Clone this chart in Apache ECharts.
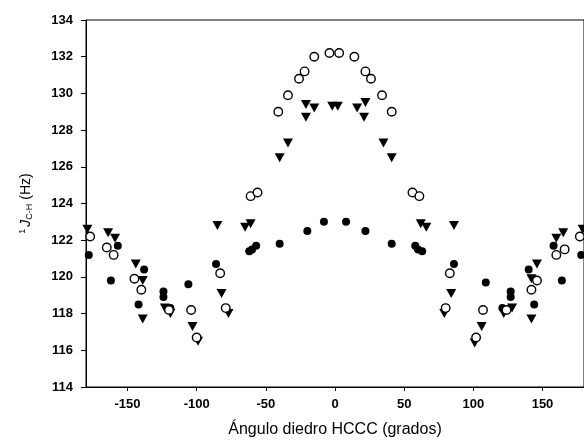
<!DOCTYPE html>
<html>
<head>
<meta charset="utf-8">
<script src="https://cdn.jsdelivr.net/npm/echarts@6/dist/echarts.min.js"></script>
<style>html,body{margin:0;padding:0;background:#fff}#c{width:584px;height:443px}</style>
</head>
<body>
<div id="c"></div>
<script>
// Filled circles
var filledX = [-178,-162,-157,-142,-138,-124,-124,-119,-106,-86,-62,-60,-57,-40,-20,-8,8,22,41,58,60,63,86,109,121,127,127,140,144,158,164,178];
var filledY = [121.2,119.8,121.7,118.5,120.4,119.2,118.9,118.3,119.6,120.7,121.4,121.5,121.7,121.8,122.5,123.0,123.0,122.5,121.8,121.7,121.5,121.4,120.7,119.7,118.3,118.9,119.2,120.4,118.5,121.7,119.8,121.2];
// Open circles
var openX = [-177,-165,-160,-145,-140,-120,-104,-100,-83,-79,-61,-56,-41,-34,-26,-22,-15,-4,3,14,22,26,34,41,56,61,80,83,102,107,124,142,146,160,166,177];
var openY = [122.2,121.6,121.2,119.9,119.3,118.2,118.2,116.7,120.2,118.3,124.4,124.6,129.0,129.9,130.8,131.2,132.0,132.2,132.2,132.0,131.2,130.8,129.9,129.0,124.6,124.4,118.3,120.2,116.7,118.2,118.2,119.3,119.8,121.2,121.5,122.2];
// Down triangles
var triX = [-179,-164,-159,-144,-139,-139,-123,-119,-103,-99,-85,-82,-77,-65,-61,-40,-34,-21,-21,-15,-2,2,16,21,22,35,41,62,66,79,84,86,101,106,122,128,142,142,146,160,165,179];
var triY = [122.6,122.4,122.1,120.7,119.8,117.7,118.3,118.0,117.3,116.5,122.8,119.1,118.0,122.7,122.9,126.5,127.3,129.4,128.7,129.2,129.3,129.3,129.2,128.7,129.5,127.3,126.5,122.9,122.7,118.0,119.1,122.8,116.4,117.3,118.0,118.3,117.7,119.9,120.7,122.1,122.4,122.6];
var xTicks = [-150,-100,-50,0,50,100,150];
var yTicks = [114,116,118,120,122,124,126,128,130,132,134];

function pairs(xs, ys){ return xs.map(function(x,i){ return [x, ys[i]]; }); }

var chart = echarts.init(document.getElementById('c'));
var font = '"Liberation Sans", Arial, sans-serif';
chart.setOption({
  animation: false,
  backgroundColor: '#fff',
  grid: {left: 86, top: 20, width: 504, height: 367, show: true, borderColor: '#000', borderWidth: 1, backgroundColor: 'transparent'},
  xAxis: {
    type: 'value', min: -180, max: 180,
    name: 'Ángulo diedro HCCC (grados)', nameLocation: 'middle', nameGap: 35,
    nameTextStyle: {fontFamily: font, fontSize: 16, color: '#000'},
    axisLine: {show: true, onZero: false, lineStyle: {color: '#000', width: 1}},
    axisTick: {show: true, inside: false, length: 4, customValues: xTicks, lineStyle: {color: '#000'}},
    axisLabel: {customValues: xTicks, fontFamily: font, fontSize: 13, fontWeight: 'bold', color: '#000', margin: 11},
    splitLine: {show: false}
  },
  yAxis: {
    type: 'value', min: 114, max: 134, interval: 2,
    name: '{sup|1}{j|J}{sub|C-H} {n|(Hz)}', nameLocation: 'middle', nameRotate: 90, nameGap: 51,
    nameTextStyle: {
      fontFamily: font, fontSize: 14, color: '#000',
      rich: {
        sup: {fontFamily: font, fontSize: 9, color: '#000', padding: [0,2,8,0]},
        j: {fontFamily: font, fontSize: 14, fontStyle: 'italic', color: '#000'},
        sub: {fontFamily: font, fontSize: 9, color: '#000', padding: [7,0,0,0]},
        n: {fontFamily: font, fontSize: 14, color: '#000'}
      }
    },
    axisLine: {show: true, onZero: false, lineStyle: {color: '#000', width: 1}},
    axisTick: {show: true, inside: false, length: 5, lineStyle: {color: '#000'}},
    axisLabel: {fontFamily: font, fontSize: 13, fontWeight: 'bold', color: '#000', margin: 13},
    splitLine: {show: false}
  },
  series: [
    {type: 'scatter', name: 'tri', data: pairs(triX, triY), symbol: 'triangle', symbolRotate: 180, symbolSize: [10, 9],
     itemStyle: {color: '#000', opacity: 1}},
    {type: 'scatter', name: 'filled', data: pairs(filledX, filledY), symbol: 'circle', symbolSize: 8,
     itemStyle: {color: '#000', opacity: 1}},
    {type: 'scatter', name: 'open', data: pairs(openX, openY), symbol: 'circle', symbolSize: 8.5,
     itemStyle: {color: '#fff', borderColor: '#000', borderWidth: 1.4, opacity: 1}}
  ]
});
</script>
</body>
</html>
